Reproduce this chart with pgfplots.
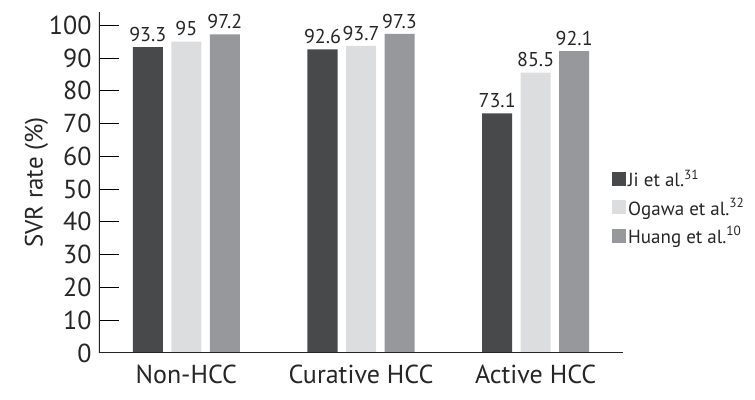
\documentclass[border=0pt]{standalone}
\usepackage{fontspec}
\setmainfont{PT Sans}
\usepackage{pgfplots}
\pgfplotsset{compat=1.18}

\definecolor{cdark}{HTML}{48494B}
\definecolor{clight}{HTML}{DCDDDF}
\definecolor{cmid}{HTML}{97989B}

\begin{document}
\begin{tikzpicture}
\begin{axis}[
    scale only axis,
    width=524bp, height=341bp,
    ybar=8.5bp, bar width=30bp,
    xmin=-0.5, xmax=2.5,
    ymin=0, ymax=104,
    xtick={0,1,2},
    xticklabels={Non-HCC, Curative HCC, Active HCC},
    ytick={0,10,...,100},
    axis line style={draw=none},
    ytick pos=left, xtick pos=bottom,
    major tick length=0pt,
    tick style={draw=none},
    /pgf/number format/assume math mode=true,
    tick label style={font=\fontsize{26bp}{28bp}\selectfont, text=black!85},
    yticklabel style={xshift=-4bp},
    xticklabel style={yshift=-8bp},
    ylabel={SVR rate (\%)},
    ylabel style={font=\fontsize{25bp}{28bp}\selectfont, text=black!85, yshift=-6bp},
    nodes near coords,
    every node near coord/.append style={font=\fontsize{20bp}{24bp}\selectfont, text=black!85, yshift=2bp},
    legend style={draw=none, fill=none, at={(1.0,0.55)}, anchor=north west, xshift=-13bp,
        font=\fontsize{19bp}{22bp}\selectfont, text=black!85,
        row sep=6bp, inner xsep=2bp},
    legend cell align=left,
    legend image code/.code={\fill[#1] (-7bp,-7bp) rectangle (7bp,7bp);},
]
\addplot[fill=cdark, draw=none] coordinates {(0,93.3) (1,92.6) (2,73.1)};
\addplot[fill=clight, draw=none] coordinates {(0,95) (1,93.7) (2,85.5)};
\addplot[fill=cmid, draw=none] coordinates {(0,97.2) (1,97.3) (2,92.1)};
\legend{Ji et al.\textsuperscript{31}, Ogawa et al.\textsuperscript{32}, Huang et al.\textsuperscript{10}}
\pgfplotsinvokeforeach{10,20,...,100}{
  \draw[line width=0.8pt, black] (axis cs:-0.5,#1) -- (axis cs:-0.386,#1);
}
\draw[line width=1.5pt, black!85] (rel axis cs:0,1) -- (rel axis cs:0,0) -- (rel axis cs:1,0);
\end{axis}
\path ([xshift=-99bp,yshift=-47bp]current axis.south west) rectangle ([xshift=132bp,yshift=12bp]current axis.north east);
\end{tikzpicture}
\end{document}
